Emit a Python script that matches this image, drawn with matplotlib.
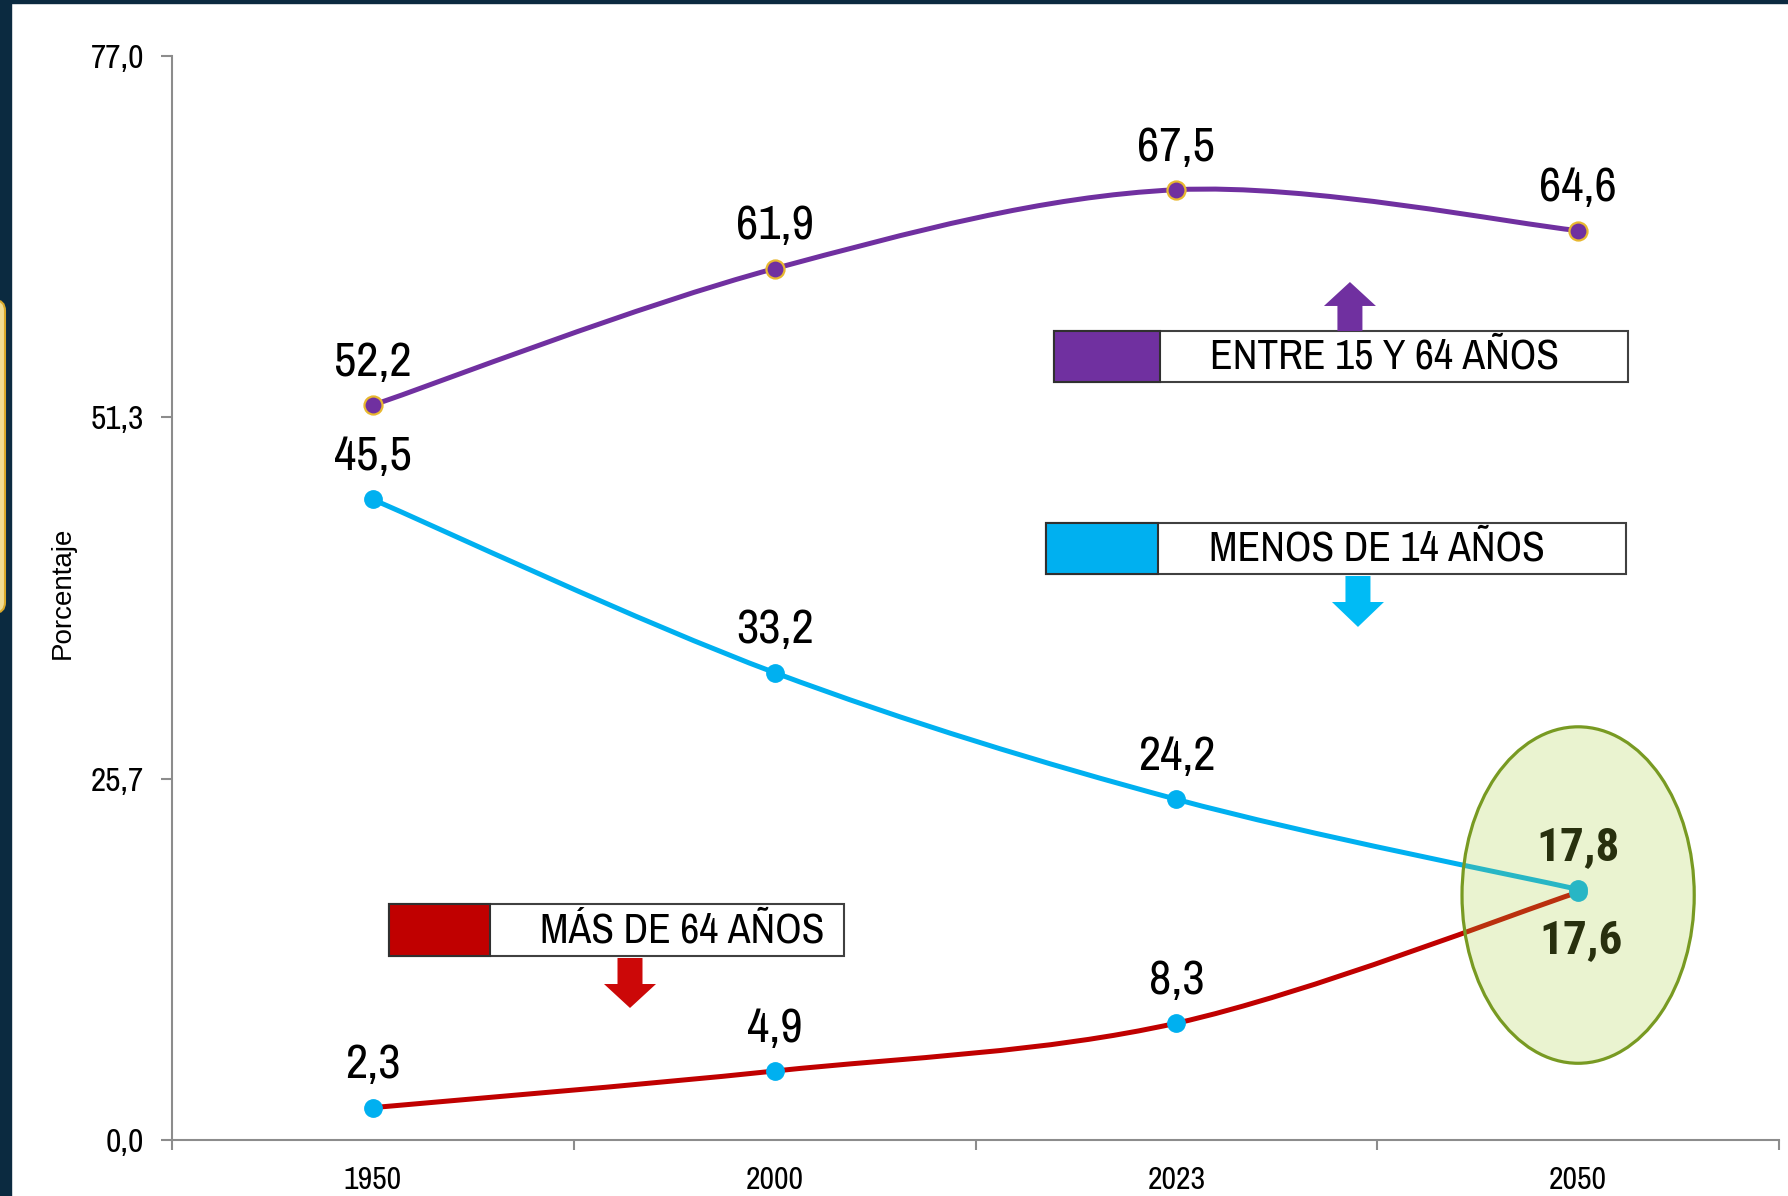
"""Estructura por edades 1950-2050"""
import matplotlib
matplotlib.use('Agg')
import matplotlib.pyplot as plt
from matplotlib.path import Path
from matplotlib.patches import PathPatch, Rectangle, Polygon, Ellipse, FancyBboxPatch

NARROW = ['Archivo Narrow', 'Roboto Condensed', 'Liberation Sans', 'DejaVu Sans']
NARROW_BOLD = ['Roboto Condensed', 'Liberation Sans', 'DejaVu Sans']
plt.rcParams['font.family'] = NARROW

# datos
anios = ['1950', '2000', '2023', '2050']
entre_15_64 = [52.2, 61.9, 67.5, 64.6]
menos_14 = [45.5, 33.2, 24.2, 17.8]
mas_64 = [2.3, 4.9, 8.3, 17.6]
y_ticks = [0.0, 77.0 / 3, 77.0 * 2 / 3, 77.0]
y_labels = ['0,0', '25,7', '51,3', '77,0']

MORADO = '#7030a0'
CIAN = '#00b0f0'
ROJO = '#c00000'
ORO = '#e8b830'
GRIS = '#8c8c8c'


def fmt(v):
    return f'{v:.1f}'.replace('.', ',')


def curva(xs, ys):
    # curva suavizada tipo Excel (Catmull-Rom -> Bezier)
    n = len(xs)
    verts = [(xs[0], ys[0])]
    codes = [Path.MOVETO]
    for i in range(n - 1):
        x0, y0 = (xs[i - 1], ys[i - 1]) if i > 0 else (xs[i], ys[i])
        x3, y3 = (xs[i + 2], ys[i + 2]) if i + 2 < n else (xs[i + 1], ys[i + 1])
        x1, y1 = xs[i], ys[i]
        x2, y2 = xs[i + 1], ys[i + 1]
        c1 = (x1 + (x2 - x0) / 6, y1 + (y2 - y0) / 6)
        c2 = (x2 - (x3 - x1) / 6, y2 - (y3 - y1) / 6)
        verts += [c1, c2, (x2, y2)]
        codes += [Path.CURVE4] * 3
    return Path(verts, codes)


fig = plt.figure(figsize=(17.88, 11.96), dpi=100)
fig.patch.set_facecolor('white')

# marco del slide
fig.patches.append(Rectangle((0, 0), 11 / 1788, 1, transform=fig.transFigure, color='#0b2a40', zorder=0))
fig.patches.append(Rectangle((0, 1 - 2.5 / 1196), 1, 2.5 / 1196, transform=fig.transFigure, color='#0b2a40', zorder=0))
fig.patches.append(FancyBboxPatch((-20 / 1788, 583 / 1196), 25 / 1788, 313 / 1196,
                                  boxstyle='round,pad=0,rounding_size=0.006', mutation_aspect=1788 / 1196,
                                  transform=fig.transFigure, facecolor='#f2dc92', edgecolor='#d9a92a',
                                  linewidth=1.5, zorder=1))

ax = fig.add_axes([172 / 1788, 56 / 1196, 1607 / 1788, 1084 / 1196])
x = list(range(len(anios)))

# lineas suavizadas
for serie, color in [(entre_15_64, MORADO), (menos_14, CIAN), (mas_64, ROJO)]:
    ax.add_patch(PathPatch(curva(x, serie), facecolor='none', edgecolor=color, linewidth=3.6,
                           capstyle='round', zorder=3))

ax.plot(x, entre_15_64, 'o', color=MORADO, markeredgecolor=ORO, markeredgewidth=1.6, markersize=13, zorder=4)
ax.plot(x, menos_14, 'o', color=CIAN, markersize=12.5, zorder=4)
ax.plot(x, mas_64, 'o', color=CIAN, markersize=12.5, zorder=4)

# etiquetas de datos
for i in x:
    ax.annotate(fmt(entre_15_64[i]), xy=(i, entre_15_64[i]), xytext=(0, 21), textcoords='offset points',
                ha='center', va='baseline', fontsize=35)
for i in x[:-1]:
    ax.annotate(fmt(menos_14[i]), xy=(i, menos_14[i]), xytext=(0, 21), textcoords='offset points',
                ha='center', va='baseline', fontsize=35)
    ax.annotate(fmt(mas_64[i]), xy=(i, mas_64[i]), xytext=(0, 21), textcoords='offset points',
                ha='center', va='baseline', fontsize=35)
ax.annotate(fmt(menos_14[-1]), xy=(x[-1], menos_14[-1]), xytext=(0, 21), textcoords='offset points',
            ha='center', va='baseline', fontsize=34, fontweight='bold', family=NARROW_BOLD)
ax.annotate(fmt(mas_64[-1]), xy=(x[-1], mas_64[-1]), xytext=(2, -44), textcoords='offset points',
            ha='center', va='baseline', fontsize=34, fontweight='bold', family=NARROW_BOLD)

# elipse resaltando 2050
ax.add_patch(Ellipse((x[-1], 17.4), 0.578, 23.9, facecolor='#a9cd3e', alpha=0.24, edgecolor='none', zorder=10))
ax.add_patch(Ellipse((x[-1], 17.4), 0.578, 23.9, facecolor='none', edgecolor='#789a22', linewidth=2.3, zorder=11))

# ejes
ax.set_xlim(-0.5, len(anios) - 0.5)
ax.set_ylim(0, 77.0)
for s in ['top', 'right']:
    ax.spines[s].set_visible(False)
for s in ['left', 'bottom']:
    ax.spines[s].set_color(GRIS)
    ax.spines[s].set_linewidth(1.5)

ax.set_xticks([i - 0.5 for i in range(len(anios) + 1)])
ax.set_xticklabels([])
ax.set_xticks(x, minor=True)
ax.set_xticklabels(anios, minor=True, fontsize=23)
ax.tick_params(axis='x', which='major', length=7, width=1.5, color=GRIS, direction='out')
ax.tick_params(axis='x', which='minor', length=0, pad=19)

ax.set_yticks(y_ticks)
ax.set_yticklabels(y_labels, fontsize=24)
ax.tick_params(axis='y', length=8, width=1.5, color=GRIS, direction='out', pad=12)

ax.set_ylabel('Porcentaje', fontsize=20, family=['Liberation Sans', 'DejaVu Sans'])
ax.yaxis.set_label_coords(-0.06, 0.505)


# recuadros de leyenda con flechas
def recuadro(x0, x1, xs, y0, y1, color, texto, xt):
    ax.add_patch(Rectangle((x0, y0), x1 - x0, y1 - y0, transform=ax.transAxes, facecolor='white',
                           edgecolor='#404040', linewidth=1.5, clip_on=False, zorder=5))
    ax.add_patch(Rectangle((x0, y0), xs - x0, y1 - y0, transform=ax.transAxes, facecolor=color,
                           edgecolor='#303030', linewidth=1.5, clip_on=False, zorder=6))
    ax.text(xt, (y0 + y1) / 2, texto, transform=ax.transAxes, ha='center', va='center',
            fontsize=30, zorder=7)


def flecha(xc, y_base, y_cabeza, y_punta, color):
    ws = 12.5 / 1607
    wh = 26 / 1607
    pts = [(xc - ws, y_base), (xc + ws, y_base), (xc + ws, y_cabeza), (xc + wh, y_cabeza),
           (xc, y_punta), (xc - wh, y_cabeza), (xc - ws, y_cabeza)]
    ax.add_patch(Polygon(pts, closed=True, transform=ax.transAxes, facecolor=color, edgecolor='none',
                         clip_on=False, zorder=6))


recuadro(0.5488, 0.9060, 0.6148, 0.6993, 0.7463, MORADO, 'ENTRE 15 Y 64 AÑOS', 0.7548)
flecha(0.7330, 0.7463, 0.7694, 0.7915, MORADO)

recuadro(0.5436, 0.9048, 0.6136, 0.5221, 0.5692, CIAN, 'MENOS DE 14 AÑOS', 0.7498)
flecha(0.7380, 0.5203, 0.4963, 0.4733, '#00bbf5')

recuadro(0.1350, 0.4182, 0.1979, 0.1697, 0.2177, ROJO, 'MÁS DE 64 AÑOS', 0.3174)
flecha(0.2850, 0.1679, 0.1439, 0.1218, '#cc0808')

plt.savefig('out.png', dpi=100)
